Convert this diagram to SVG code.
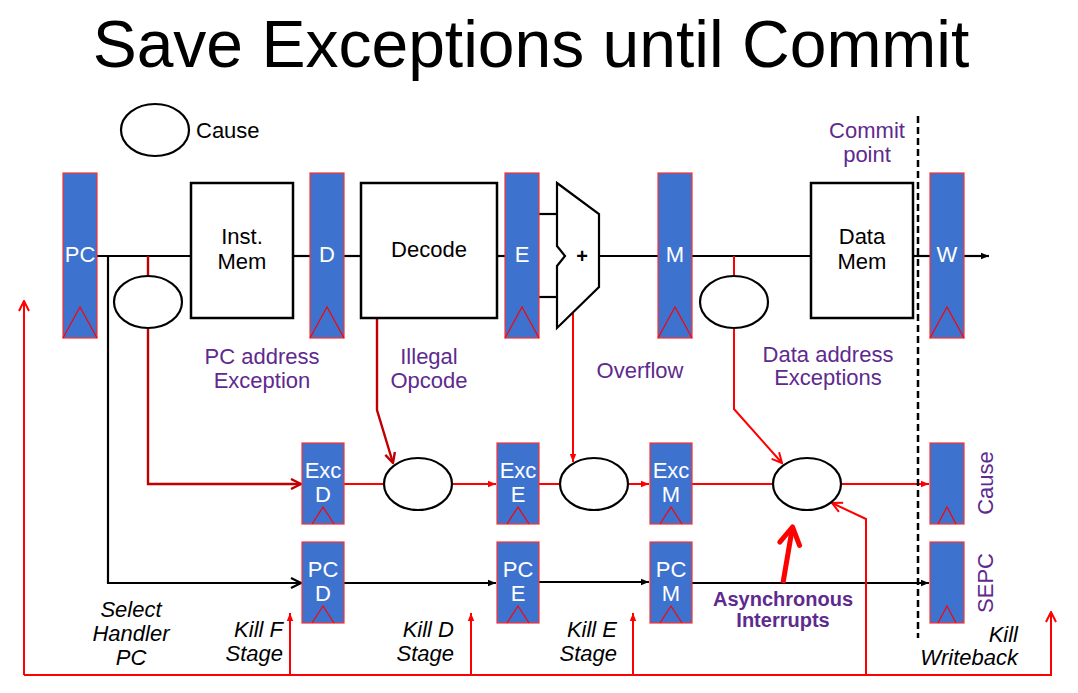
<svg xmlns="http://www.w3.org/2000/svg" width="1078" height="693" viewBox="0 0 1078 693">
<style>
.reg{fill:#3D73CF;stroke:#FF3030;stroke-width:1.2}
.tri{fill:none;stroke:#FF0000;stroke-width:1.2}
.box{fill:#fff;stroke:#000;stroke-width:2.5}
.ov{fill:#fff;stroke:#000;stroke-width:2.2}
.rt{font-family:"Liberation Sans",Arial,sans-serif;font-size:22px;fill:#fff;text-anchor:middle}
.bt{font-family:"Liberation Sans",Arial,sans-serif;font-size:22px;fill:#000;text-anchor:middle}
.pt{font-family:"Liberation Sans",Arial,sans-serif;font-size:22px;fill:#5E2A8E;text-anchor:middle}
.it{font-family:"Liberation Sans",Arial,sans-serif;font-size:22px;font-style:italic;fill:#000;text-anchor:end}
.k{fill:none;stroke:#000;stroke-width:2.2}
.r{fill:none;stroke:#FF0000;stroke-width:2}
.dr{fill:none;stroke:#C00000;stroke-width:2.4}
</style>
<defs>
<marker id="chevR" viewBox="0 0 12 12" refX="11" refY="6" markerWidth="12" markerHeight="12" markerUnits="userSpaceOnUse" orient="auto"><path d="M1,1 L11,6 L1,11" fill="none" stroke="#FF0000" stroke-width="2"/></marker>
<marker id="chevDR" viewBox="0 0 12 12" refX="11" refY="6" markerWidth="12" markerHeight="12" markerUnits="userSpaceOnUse" orient="auto"><path d="M1,1 L11,6 L1,11" fill="none" stroke="#C00000" stroke-width="2.4"/></marker>
<marker id="chevK" viewBox="0 0 12 12" refX="11" refY="6" markerWidth="12" markerHeight="12" markerUnits="userSpaceOnUse" orient="auto"><path d="M1,1 L11,6 L1,11" fill="none" stroke="#000" stroke-width="2.2"/></marker>
<marker id="triR" viewBox="0 0 8 8" refX="8" refY="4" markerWidth="8" markerHeight="8" markerUnits="userSpaceOnUse" orient="auto"><path d="M0,0.8 L8,4 L0,7.2 Z" fill="#FF0000"/></marker>
<marker id="triK" viewBox="0 0 8 8" refX="8" refY="4" markerWidth="8" markerHeight="8" markerUnits="userSpaceOnUse" orient="auto"><path d="M0,0.8 L8,4 L0,7.2 Z" fill="#000"/></marker>
<marker id="bigR" viewBox="0 0 26 26" refX="21" refY="13" markerWidth="26" markerHeight="26" markerUnits="userSpaceOnUse" orient="auto"><path d="M4,3 L21,13 L4,23" fill="none" stroke="#FF0000" stroke-width="5" stroke-linecap="round" stroke-linejoin="round"/></marker>
</defs>
<rect width="1078" height="693" fill="#fff"/>
<text x="531" y="67" font-family="'Liberation Sans',Arial,sans-serif" font-size="66" text-anchor="middle" fill="#000">Save Exceptions until Commit</text>

<g id="connectors">
<!-- main datapath -->
<line class="k" x1="97" y1="256" x2="191" y2="256"/>
<line class="k" x1="293" y1="256" x2="310" y2="256"/>
<line class="k" x1="344" y1="256" x2="361" y2="256"/>
<line class="k" x1="497" y1="256" x2="505" y2="256"/>
<line class="k" x1="539" y1="214" x2="557" y2="214"/>
<line class="k" x1="539" y1="297" x2="557" y2="297"/>
<line class="k" x1="599" y1="256" x2="658" y2="256"/>
<line class="k" x1="692" y1="256" x2="811" y2="256"/>
<line class="k" x1="913" y1="256" x2="930" y2="256"/>
<line class="k" x1="964" y1="256" x2="989" y2="256" stroke-width="1.8" marker-end="url(#triK)"/>
<!-- PC copy path -->
<polyline class="k" points="108,256 108,583 301,583" marker-end="url(#chevK)"/>
<line class="k" x1="344" y1="583" x2="496" y2="583" marker-end="url(#triK)"/>
<line class="k" x1="539" y1="582" x2="649" y2="582" marker-end="url(#triK)"/>
<line class="k" x1="692" y1="583" x2="929" y2="583" marker-end="url(#triK)"/>
<!-- PC address exception -->
<line class="dr" x1="148" y1="256" x2="148" y2="276"/>
<polyline class="dr" points="148,328 148,484 301,484" marker-end="url(#chevDR)"/>
<!-- illegal opcode -->
<polyline class="dr" points="377,318 377,410 393,463" marker-end="url(#chevDR)"/>
<!-- overflow -->
<line class="r" x1="573" y1="309" x2="573" y2="462" marker-end="url(#triR)"/>
<!-- data address -->
<line class="r" x1="734" y1="256" x2="734" y2="276"/>
<polyline class="r" points="734,328 734,409 782,463" marker-end="url(#chevR)"/>
<!-- exception row -->
<line class="r" x1="344" y1="484" x2="384" y2="484"/>
<line class="r" x1="452" y1="484" x2="496" y2="484" marker-end="url(#triR)"/>
<line class="r" x1="539" y1="484" x2="560" y2="484"/>
<line class="r" x1="628" y1="484" x2="649" y2="484" marker-end="url(#triR)"/>
<line class="r" x1="692" y1="484" x2="773" y2="484"/>
<line class="r" x1="841" y1="484" x2="929" y2="484" marker-end="url(#triR)"/>
<!-- bottom kill loop -->
<polyline class="r" points="24,675 24,301" marker-end="url(#chevR)"/>
<polyline class="r" points="24,675 1051,675 1051,612" marker-end="url(#chevR)"/>
<line class="r" x1="290" y1="675" x2="290" y2="613" marker-end="url(#triR)"/>
<line class="r" x1="471" y1="675" x2="471" y2="613" marker-end="url(#triR)"/>
<line class="r" x1="633" y1="675" x2="633" y2="613" marker-end="url(#triR)"/>
<polyline class="r" points="866,675 866,519 832,503" marker-end="url(#chevR)"/>
<!-- asynchronous interrupt arrow -->
<line x1="783" y1="583" x2="792.5" y2="527" stroke="#FF0000" stroke-width="5" marker-end="url(#bigR)"/>
<!-- commit point -->
<line x1="918" y1="116" x2="918" y2="638" stroke="#000" stroke-width="2.5" stroke-dasharray="7,4"/>
</g>

<g id="legend">
<ellipse class="ov" cx="155" cy="130" rx="34" ry="26"/>
<text class="bt" x="196" y="138" style="text-anchor:start">Cause</text>
</g>

<g id="reg-PC">
<rect class="reg" x="63" y="173" width="34" height="165"/>
<polyline class="tri" points="63,338 80,307 97,338"/>
<text class="rt" x="80" y="262">PC</text>
</g>
<g id="inst-mem">
<rect class="box" x="191" y="183" width="102" height="135"/>
<text class="bt" x="242" y="244">Inst.</text>
<text class="bt" x="242" y="269">Mem</text>
</g>
<g id="reg-D">
<rect class="reg" x="310" y="173" width="34" height="165"/>
<polyline class="tri" points="310,338 327,307 344,338"/>
<text class="rt" x="327" y="262">D</text>
</g>
<g id="decode">
<rect class="box" x="361" y="183" width="136" height="135"/>
<text class="bt" x="429" y="257">Decode</text>
</g>
<g id="reg-E">
<rect class="reg" x="505" y="173" width="34" height="165"/>
<polyline class="tri" points="505,338 522,307 539,338"/>
<text class="rt" x="522" y="262">E</text>
</g>
<g id="alu">
<polygon points="557,183 599,214 599,287 557,328 557,266 565,256 557,246" fill="#fff" stroke="#000" stroke-width="2.2"/>
<text x="582" y="263" font-family="'Liberation Sans',Arial,sans-serif" font-size="20" font-weight="bold" text-anchor="middle" fill="#000">+</text>
</g>
<g id="reg-M">
<rect class="reg" x="658" y="173" width="34" height="165"/>
<polyline class="tri" points="658,338 675,307 692,338"/>
<text class="rt" x="675" y="262">M</text>
</g>
<g id="data-mem">
<rect class="box" x="811" y="183" width="102" height="135"/>
<text class="bt" x="862" y="244">Data</text>
<text class="bt" x="862" y="269">Mem</text>
</g>
<g id="reg-W">
<rect class="reg" x="930" y="173" width="34" height="165"/>
<polyline class="tri" points="930,338 947,307 964,338"/>
<text class="rt" x="947" y="262">W</text>
</g>

<g id="cause-pc"><ellipse class="ov" cx="148" cy="302" rx="34" ry="26"/></g>
<g id="cause-mem"><ellipse class="ov" cx="734" cy="302" rx="34" ry="26"/></g>
<g id="cause-d"><ellipse class="ov" cx="418" cy="484" rx="34" ry="26"/></g>
<g id="cause-e"><ellipse class="ov" cx="594" cy="484" rx="34" ry="26"/></g>
<g id="cause-m"><ellipse class="ov" cx="807" cy="484" rx="34" ry="26"/></g>

<g id="exc-D">
<rect class="reg" x="302" y="443" width="42" height="81"/>
<polyline class="tri" points="312,524 323,507 334,524"/>
<text class="rt" x="323" y="478">Exc</text>
<text class="rt" x="323" y="502">D</text>
</g>
<g id="exc-E">
<rect class="reg" x="497" y="443" width="42" height="81"/>
<polyline class="tri" points="507,524 518,507 529,524"/>
<text class="rt" x="518" y="478">Exc</text>
<text class="rt" x="518" y="502">E</text>
</g>
<g id="exc-M">
<rect class="reg" x="650" y="443" width="42" height="81"/>
<polyline class="tri" points="660,524 671,507 682,524"/>
<text class="rt" x="671" y="478">Exc</text>
<text class="rt" x="671" y="502">M</text>
</g>
<g id="pc-D">
<rect class="reg" x="302" y="542" width="42" height="81"/>
<polyline class="tri" points="312,623 323,606 334,623"/>
<text class="rt" x="323" y="577">PC</text>
<text class="rt" x="323" y="601">D</text>
</g>
<g id="pc-E">
<rect class="reg" x="497" y="542" width="42" height="81"/>
<polyline class="tri" points="507,623 518,606 529,623"/>
<text class="rt" x="518" y="577">PC</text>
<text class="rt" x="518" y="601">E</text>
</g>
<g id="pc-M">
<rect class="reg" x="650" y="542" width="42" height="81"/>
<polyline class="tri" points="660,623 671,606 682,623"/>
<text class="rt" x="671" y="577">PC</text>
<text class="rt" x="671" y="601">M</text>
</g>
<g id="reg-Cause">
<rect class="reg" x="930" y="443" width="34" height="81"/>
<polyline class="tri" points="938,524 947,507 956,524"/>
<text class="pt" transform="translate(993,483) rotate(-90)">Cause</text>
</g>
<g id="reg-SEPC">
<rect class="reg" x="930" y="542" width="34" height="81"/>
<polyline class="tri" points="938,623 947,606 956,623"/>
<text class="pt" transform="translate(993,583) rotate(-90)">SEPC</text>
</g>

<g id="labels">
<text class="pt" x="867" y="138">Commit</text>
<text class="pt" x="867" y="162">point</text>
<text class="pt" x="262" y="364">PC address</text>
<text class="pt" x="262" y="388">Exception</text>
<text class="pt" x="429" y="364">Illegal</text>
<text class="pt" x="429" y="388">Opcode</text>
<text class="pt" x="640" y="378">Overflow</text>
<text class="pt" x="828" y="362">Data address</text>
<text class="pt" x="828" y="385">Exceptions</text>
<text x="783" y="606" font-family="'Liberation Sans',Arial,sans-serif" font-size="20" font-weight="bold" fill="#5E2A8E" text-anchor="middle">Asynchronous</text>
<text x="783" y="627" font-family="'Liberation Sans',Arial,sans-serif" font-size="20" font-weight="bold" fill="#5E2A8E" text-anchor="middle">Interrupts</text>
<text class="it" x="131" y="617" style="text-anchor:middle">Select</text>
<text class="it" x="131" y="641" style="text-anchor:middle">Handler</text>
<text class="it" x="131" y="665" style="text-anchor:middle">PC</text>
<text class="it" x="283" y="637">Kill F</text>
<text class="it" x="283" y="661">Stage</text>
<text class="it" x="454" y="637">Kill D</text>
<text class="it" x="454" y="661">Stage</text>
<text class="it" x="617" y="637">Kill E</text>
<text class="it" x="617" y="661">Stage</text>
<text class="it" x="1018" y="642">Kill</text>
<text class="it" x="1018" y="665">Writeback</text>
</g>
</svg>
